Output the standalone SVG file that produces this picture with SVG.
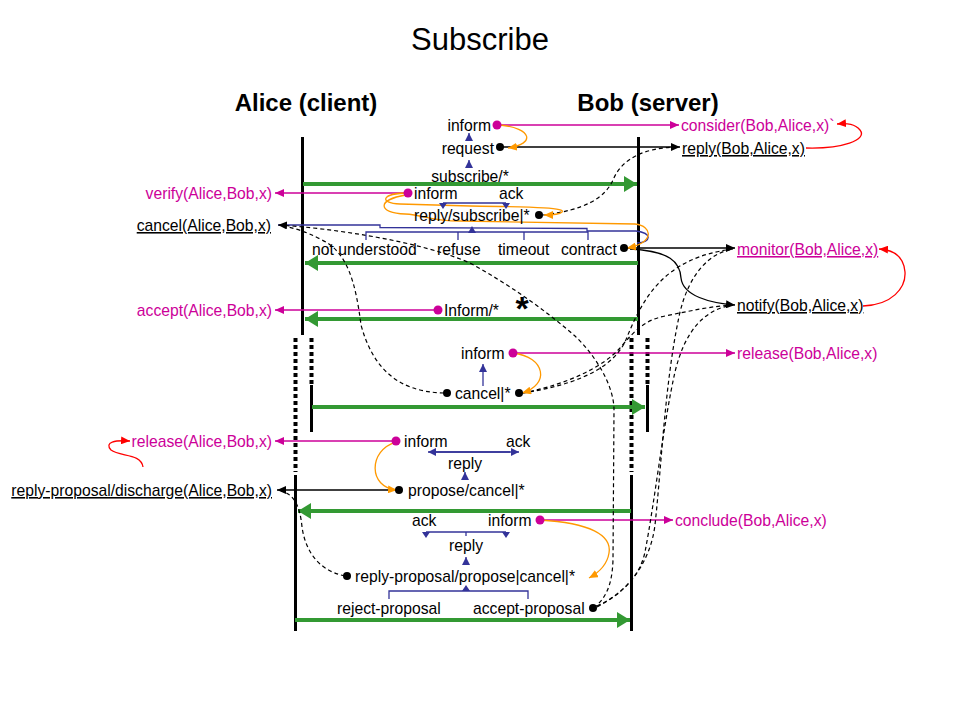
<svg xmlns="http://www.w3.org/2000/svg" width="960" height="720" viewBox="0 0 960 720">
<style>
text{font-family:"Liberation Sans",Arial,sans-serif;font-size:15.7px;fill:#000}
.m{fill:#cc0099}
.u{text-decoration:underline}
.e{text-anchor:end}
.c{text-anchor:middle}
.h{font-weight:bold;font-size:24px}
.life{stroke:#000;stroke-width:3;fill:none}
.dot{stroke:#000;stroke-width:4;stroke-dasharray:4 3;fill:none}
.g{stroke:#339933;stroke-width:4;fill:none;marker-end:url(#ag)}
.mg{stroke:#cc0099;stroke-width:1.3;fill:none;marker-end:url(#am)}
.bk{stroke:#000;stroke-width:1.3;fill:none;marker-end:url(#ab)}
.ds{stroke:#000;stroke-width:1.2;stroke-dasharray:4 3;fill:none}
.or{stroke:#ff9900;stroke-width:1.3;fill:none;marker-end:url(#ao)}
.rd{stroke:#ff0000;stroke-width:1.3;fill:none;marker-end:url(#ar)}
.nv{stroke:#333399;stroke-width:1.3;fill:none}
.nva{stroke:#333399;stroke-width:1.3;fill:none;marker-end:url(#an)}
.tri{fill:#333399}
.pm{fill:#cc0099}
.pb{fill:#000}
</style>
<defs>
<marker id="ag" markerUnits="userSpaceOnUse" markerWidth="14" markerHeight="16" refX="13" refY="8" orient="auto"><path d="M0,0 L13,8 L0,16 z" fill="#339933"/></marker>
<marker id="am" markerUnits="userSpaceOnUse" markerWidth="9" markerHeight="8" refX="9" refY="4" orient="auto"><path d="M0,0 L9,4 L0,8 z" fill="#cc0099"/></marker>
<marker id="ab" markerUnits="userSpaceOnUse" markerWidth="9" markerHeight="8" refX="9" refY="4" orient="auto"><path d="M0,0 L9,4 L0,8 z" fill="#000"/></marker>
<marker id="ao" markerUnits="userSpaceOnUse" markerWidth="9" markerHeight="8" refX="9" refY="4" orient="auto"><path d="M0,0 L9,4 L0,8 z" fill="#ff9900"/></marker>
<marker id="ar" markerUnits="userSpaceOnUse" markerWidth="9" markerHeight="8" refX="9" refY="4" orient="auto"><path d="M0,0 L9,4 L0,8 z" fill="#ff0000"/></marker>
<marker id="an" markerUnits="userSpaceOnUse" markerWidth="8" markerHeight="8" refX="8" refY="4" orient="auto"><path d="M0,0 L8,4 L0,8 z" fill="#333399"/></marker>
</defs>
<rect width="960" height="720" fill="#fff"/>

<g id="title"><text x="480" y="50" class="c" style="font-size:31px">Subscribe</text></g>

<g id="alice">
<text x="306" y="111" class="c h">Alice (client)</text>
<line class="life" x1="302.5" y1="137" x2="302.5" y2="335"/>
<line class="dot" x1="295.5" y1="338" x2="295.5" y2="472"/>
<line class="dot" x1="311.5" y1="338" x2="311.5" y2="385"/>
<line class="life" x1="311.5" y1="385" x2="311.5" y2="432"/>
<line class="life" x1="295.5" y1="475" x2="295.5" y2="631"/>
</g>
<g id="bob">
<text x="648" y="111" class="c h">Bob (server)</text>
<line class="life" x1="638.5" y1="137" x2="638.5" y2="335"/>
<line class="dot" x1="631.5" y1="338" x2="631.5" y2="472"/>
<line class="dot" x1="647.5" y1="338" x2="647.5" y2="385"/>
<line class="life" x1="647.5" y1="385" x2="647.5" y2="432"/>
<line class="life" x1="631.5" y1="475" x2="631.5" y2="631"/>
</g>

<g id="connectors">
<path class="g" d="M303,184 L637,184"/>
<path class="g" d="M638,263 L305,263"/>
<path class="g" d="M638,319 L305,319"/>
<path class="g" d="M312,407 L645,407"/>
<path class="g" d="M631,511 L298,511"/>
<path class="g" d="M295,620 L630,620"/>
<path class="mg" d="M500,125 L679,125"/>
<path class="mg" d="M408,193 L275,193"/>
<path class="mg" d="M438,310 L275,310"/>
<path class="mg" d="M513,353 L735,353"/>
<path class="mg" d="M396,441 L275,441"/>
<path class="mg" d="M540,520 L673,520"/>
<path class="bk" d="M500,147 L680,147"/>
<path class="bk" d="M623,248 L735,248"/>
<path class="bk" d="M630,249 C670,251 680,262 681,278 C683,296 710,303 735,305"/>
<path class="bk" d="M399,490 L277,490"/>
<path class="nv" d="M278,225 L380,225 L380,227.5 L587,228.5 L587,231 L636,231 C652,233 652,242 637,243"/>
<path class="ds" style="marker-end:url(#ab)" d="M594,608 C603,600 612,590 613,560 L614,410 C614,385 595,355 575,336 C545,310 510,285 470,263 C420,241 330,228 278,225"/>
<path class="ds" d="M444,393 C395,392 372,365 361,325 C356,285 348,252 322,240 C305,231 292,227 280,226"/>
<path class="ds" d="M543,215 C585,210 605,198 613,180 C622,158 645,148 676,147"/>
<path class="ds" d="M523,393 C568,386 610,372 625,342 C642,300 662,258 733,249"/>
<path class="ds" d="M523,393 C568,384 603,367 620,348 C635,330 645,320 665,316 C690,311 712,306 733,305"/>
<path class="ds" d="M597,606 C625,594 650,565 655,525 C662,460 665,380 680,312 C690,272 710,253 733,249"/>
<path class="ds" d="M597,607 C625,592 640,575 645,552 C655,500 664,420 675,372 C685,330 705,309 733,305"/>
<path class="ds" d="M345,576 C316,570 305,548 302,527 C300,506 294,494 281,491"/>
<path class="or" d="M500,125 C532,128 536,144 508,148"/>
<path class="or" d="M408,193 C382,193 378,203 400,204 L470,206 C540,207 566,208 562,212 C559,215 552,215 544,215"/>
<path class="or" d="M406,195 C376,200 378,213 405,214 C425,215 430,221 460,221 L635,224 C653,226 655,243 627,248"/>
<path class="or" d="M513,353 C546,357 550,385 522,393"/>
<path class="or" d="M396,442 C368,450 368,488 397,490"/>
<path class="or" d="M540,520 C590,523 612,535 609,553 C607,566 598,573 589,578"/>
<path class="rd" d="M806,148 C842,149 868,140 860,130 C855,124 848,123 837,124"/>
<path class="rd" d="M863,306 C892,305 906,288 905,272 C904,258 895,250 879,249"/>
<path class="rd" d="M143,467 C141,453 120,457 111,450 C104,442 115,440 130,441"/>
<path class="nva" d="M469,141 L469,133"/>
<path class="nva" d="M469,168 L469,160"/>
<path class="nv" d="M443,203 L506,203"/>
<polygon class="tri" points="439,203 447,203 443,209"/>
<polygon class="tri" points="502,203 510,203 506,209"/>
<path class="nv" d="M366,240 L366,232 L588,232 L588,240 M458,232 L458,240 M524,232 L524,240"/>
<polygon class="tri" points="468,233 476,233 472,226"/>
<path class="nva" d="M483,386 L483,364"/>
<path class="nv" d="M436,452 L510,452"/>
<path class="nva" d="M465,452 L428,452"/>
<path class="nva" d="M465,452 L519,452"/>
<path class="nva" d="M465,480 L465,472"/>
<path class="nv" d="M426,532 L506,532 M466,532 L466,536"/>
<polygon class="tri" points="422,532 430,532 426,538"/>
<polygon class="tri" points="502,532 510,532 506,538"/>
<path class="nva" d="M466,564 L466,557"/>
<path class="nv" d="M389,599 L389,591 L528,591 L528,599"/>
<polygon class="tri" points="462,591 470,591 466,585"/>
</g>

<g id="n-top">
<text x="491" y="131" class="e">inform</text>
<circle cx="497" cy="125" r="4.5" class="pm"/>
<text x="494" y="154" class="e">request</text>
<circle cx="500" cy="147" r="4" class="pb"/>
<text x="470" y="182" class="c">subscribe/*</text>
</g>
<g id="n-consider"><text x="681" y="131" class="m">consider(Bob,Alice,x)`</text></g>
<g id="n-reply-bob"><text x="682" y="154" class="u">reply(Bob,Alice,x)</text></g>
<g id="n-reply-subscribe">
<text x="414" y="199">inform</text>
<circle cx="408" cy="193" r="4.5" class="pm"/>
<text x="499" y="199">ack</text>
<text x="414" y="221">reply/subscribe|*</text>
<circle cx="539" cy="215" r="4" class="pb"/>
<text x="312" y="255">not understood</text>
<text x="437" y="255">refuse</text>
<text x="498" y="255">timeout</text>
<text x="561" y="255">contract</text>
<circle cx="624" cy="248" r="4" class="pb"/>
</g>
<g id="n-verify"><text x="272" y="199" class="e m">verify(Alice,Bob,x)</text></g>
<g id="n-cancel-alice"><text x="271" y="231" class="e u">cancel(Alice,Bob,x)</text></g>
<g id="n-monitor"><text x="737" y="255" class="m u">monitor(Bob,Alice,x)</text></g>
<g id="n-notify"><text x="737" y="311" class="u">notify(Bob,Alice,x)</text></g>
<g id="n-inform-star">
<text x="444" y="316">Inform/*</text>
<circle cx="438" cy="310" r="4.5" class="pm"/>
<text x="522" y="320" class="c" style="font-size:34px;font-weight:bold">*</text>
</g>
<g id="n-accept"><text x="272" y="316" class="e m">accept(Alice,Bob,x)</text></g>
<g id="n-cancel">
<text x="461" y="359">inform</text>
<circle cx="513" cy="353" r="4.5" class="pm"/>
<text x="455" y="399">cancel|*</text>
<circle cx="447" cy="393" r="4" class="pb"/>
<circle cx="519" cy="393" r="4" class="pb"/>
</g>
<g id="n-release-bob"><text x="737" y="359" class="m">release(Bob,Alice,x)</text></g>
<g id="n-propose">
<text x="404" y="447">inform</text>
<circle cx="396" cy="441" r="4.5" class="pm"/>
<text x="506" y="447">ack</text>
<text x="448" y="469">reply</text>
<text x="408" y="496">propose/cancel|*</text>
<circle cx="399" cy="490" r="4" class="pb"/>
</g>
<g id="n-release-alice"><text x="272" y="447" class="e m">release(Alice,Bob,x)</text></g>
<g id="n-discharge"><text x="272" y="496" class="e u">reply-proposal/discharge(Alice,Bob,x)</text></g>
<g id="n-reply-proposal">
<text x="412" y="526">ack</text>
<text x="488" y="526">inform</text>
<circle cx="540" cy="520" r="4.5" class="pm"/>
<text x="449" y="551">reply</text>
<text x="355" y="582">reply-proposal/propose|cancel|*</text>
<circle cx="347" cy="576" r="4" class="pb"/>
<text x="337" y="614">reject-proposal</text>
<text x="473" y="614">accept-proposal</text>
<circle cx="593" cy="608" r="4" class="pb"/>
</g>
<g id="n-conclude"><text x="675" y="526" class="m">conclude(Bob,Alice,x)</text></g>
</svg>
